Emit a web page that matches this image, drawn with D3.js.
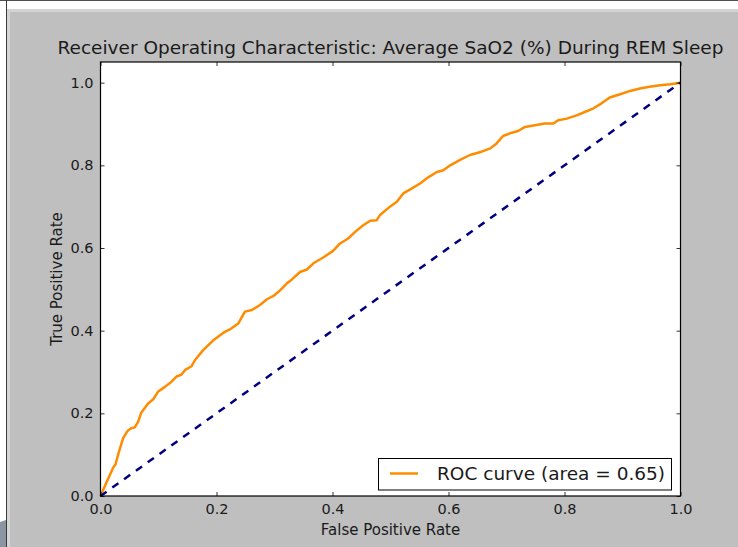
<!DOCTYPE html>
<html>
<head>
<meta charset="utf-8">
<script src="https://cdn.jsdelivr.net/npm/d3@7"></script>
<style>
  html, body { margin: 0; padding: 0; background: #ffffff; }
  svg { display: block; }
  text { font-family: "DejaVu Sans", sans-serif; fill: #1a1a1a; }
</style>
</head>
<body>
<svg id="chart" width="738" height="547"></svg>
<script>
// ROC curve points (false positive rate, true positive rate)
const fpr = [0, 0.011, 0.022, 0.026, 0.031, 0.039, 0.047, 0.053, 0.059, 0.065, 0.070, 0.082, 0.091, 0.099,
  0.111, 0.122, 0.131, 0.139, 0.146, 0.157, 0.163, 0.177, 0.194, 0.212, 0.223, 0.238, 0.249, 0.261, 0.275,
  0.287, 0.298, 0.307, 0.321, 0.330, 0.344, 0.356, 0.367, 0.384, 0.401, 0.413, 0.427, 0.439, 0.453, 0.465,
  0.476, 0.482, 0.499, 0.511, 0.522, 0.534, 0.551, 0.565, 0.580, 0.591, 0.603, 0.620, 0.637, 0.657, 0.672,
  0.683, 0.694, 0.709, 0.720, 0.732, 0.749, 0.766, 0.781, 0.789, 0.804, 0.821, 0.835, 0.850, 0.864, 0.878,
  0.896, 0.913, 0.930, 0.947, 0.965, 0.982, 1.0];
const tpr = [0, 0.035, 0.069, 0.077, 0.103, 0.140, 0.158, 0.164, 0.166, 0.180, 0.201, 0.224, 0.234, 0.252,
  0.264, 0.276, 0.289, 0.293, 0.305, 0.314, 0.329, 0.353, 0.376, 0.395, 0.403, 0.418, 0.446, 0.450, 0.462,
  0.476, 0.484, 0.494, 0.514, 0.524, 0.542, 0.548, 0.563, 0.577, 0.593, 0.611, 0.623, 0.639, 0.655, 0.666,
  0.667, 0.680, 0.700, 0.712, 0.732, 0.742, 0.756, 0.771, 0.784, 0.788, 0.800, 0.813, 0.825, 0.833, 0.841,
  0.853, 0.871, 0.879, 0.883, 0.893, 0.897, 0.901, 0.901, 0.909, 0.913, 0.921, 0.929, 0.938, 0.950, 0.964,
  0.972, 0.980, 0.986, 0.990, 0.994, 0.996, 1.0];
const chanceX = [0, 1];
const chanceY = [0, 1];
const xTicks = [0.0, 0.2, 0.4, 0.6, 0.8, 1.0];
const yTicks = [0.0, 0.2, 0.4, 0.6, 0.8, 1.0];
const rocArea = 0.65;
const titleText = "Receiver Operating Characteristic: Average SaO2 (%) During REM Sleep";
const xLabelText = "False Positive Rate";
const yLabelText = "True Positive Rate";

const svg = d3.select("#chart");
const W = 738, H = 547;

// window frame and figure background
svg.append("rect").attr("x", 0).attr("y", 0).attr("width", W).attr("height", H).attr("fill", "#ffffff");
svg.append("rect").attr("x", 0).attr("y", 0).attr("width", W).attr("height", 1).attr("fill", "#505050");
svg.append("rect").attr("x", 6).attr("y", 0).attr("width", 1).attr("height", H).attr("fill", "#3a3a3a");
svg.append("rect").attr("x", 7).attr("y", 9).attr("width", W - 7).attr("height", H - 9).attr("fill", "#d4d4d4");
svg.append("rect").attr("x", 10).attr("y", 12).attr("width", W - 10).attr("height", H - 12).attr("fill", "#bfbfbf");
// small dark patch at lower-left edge
svg.append("path").attr("d", "M0,522 L6,520 L6,547 L0,547 Z").attr("fill", "#2c3e55").attr("opacity", 0.55);

const m = { left: 100.5, top: 62, right: 680.5, bottom: 496 };
const x = d3.scaleLinear().domain([0, 1]).range([m.left, m.right]);
const y = d3.scaleLinear().domain([0, 1.05]).range([m.bottom, m.top]);

// axes area
svg.append("rect").attr("x", m.left).attr("y", m.top)
  .attr("width", m.right - m.left).attr("height", m.bottom - m.top).attr("fill", "#ffffff");

svg.append("clipPath").attr("id", "plotclip").append("rect")
  .attr("x", m.left - 2).attr("y", m.top - 2)
  .attr("width", m.right - m.left + 4).attr("height", m.bottom - m.top + 4);

const line = d3.line().x(d => x(d[0])).y(d => y(d[1]));
const plot = svg.append("g").attr("clip-path", "url(#plotclip)");

plot.append("path")
  .datum(fpr.map((v, i) => [v, tpr[i]]))
  .attr("d", line)
  .attr("fill", "none")
  .attr("stroke", "#ff8c00")
  .attr("stroke-width", 2.5)
  .attr("stroke-linejoin", "round");

plot.append("path")
  .datum(chanceX.map((v, i) => [v, chanceY[i]]))
  .attr("d", line)
  .attr("fill", "none")
  .attr("stroke", "#000080")
  .attr("stroke-width", 2.5)
  .attr("stroke-dasharray", "7.5,7");

// inward ticks on all four sides
const tickLen = 4;
const fmt = d3.format(".1f");
const axB = d3.axisBottom(x).tickValues(xTicks).tickFormat(fmt).tickSizeInner(-tickLen).tickSizeOuter(0).tickPadding(8);
const axT = d3.axisTop(x).tickValues(xTicks).tickFormat("").tickSizeInner(-tickLen).tickSizeOuter(0);
const axL = d3.axisLeft(y).tickValues(yTicks).tickFormat(fmt).tickSizeInner(-tickLen).tickSizeOuter(0).tickPadding(7);
const axR = d3.axisRight(y).tickValues(yTicks).tickFormat("").tickSizeInner(-tickLen).tickSizeOuter(0);

function style(g) {
  g.select(".domain").remove();
  g.selectAll(".tick line").attr("stroke", "#000").attr("stroke-width", 0.8);
  g.selectAll(".tick text").attr("font-family", "DejaVu Sans, sans-serif").attr("font-size", 14.5).attr("fill", "#1a1a1a");
}
svg.append("g").attr("transform", `translate(0,${m.bottom})`).call(axB).call(style);
svg.append("g").attr("transform", `translate(0,${m.top})`).call(axT).call(style);
svg.append("g").attr("transform", `translate(${m.left},0)`).call(axL).call(style);
svg.append("g").attr("transform", `translate(${m.right},0)`).call(axR).call(style);

// spines
svg.append("rect").attr("x", m.left).attr("y", m.top)
  .attr("width", m.right - m.left).attr("height", m.bottom - m.top)
  .attr("fill", "none").attr("stroke", "#000").attr("stroke-width", 1.2);

// title and axis labels
svg.append("text").attr("x", (m.left + m.right) / 2).attr("y", 54)
  .attr("text-anchor", "middle").attr("font-size", 18.5).text(titleText);
svg.append("text").attr("x", (m.left + m.right) / 2).attr("y", 535)
  .attr("text-anchor", "middle").attr("font-size", 15).text(xLabelText);
svg.append("text").attr("transform", `translate(62,${(m.top + m.bottom) / 2}) rotate(-90)`)
  .attr("text-anchor", "middle").attr("font-size", 15).text(yLabelText);

// legend
const lg = svg.append("g");
lg.append("rect").attr("x", 378.5).attr("y", 458.5).attr("width", 293).attr("height", 31.5)
  .attr("fill", "#ffffff").attr("stroke", "#000").attr("stroke-width", 1);
lg.append("line").attr("x1", 390).attr("x2", 418).attr("y1", 473.5).attr("y2", 473.5)
  .attr("stroke", "#ff8c00").attr("stroke-width", 2.5);
lg.append("text").attr("x", 437).attr("y", 480).attr("font-size", 18.5)
  .text(`ROC curve (area = ${rocArea.toFixed(2)})`);
</script>
</body>
</html>
